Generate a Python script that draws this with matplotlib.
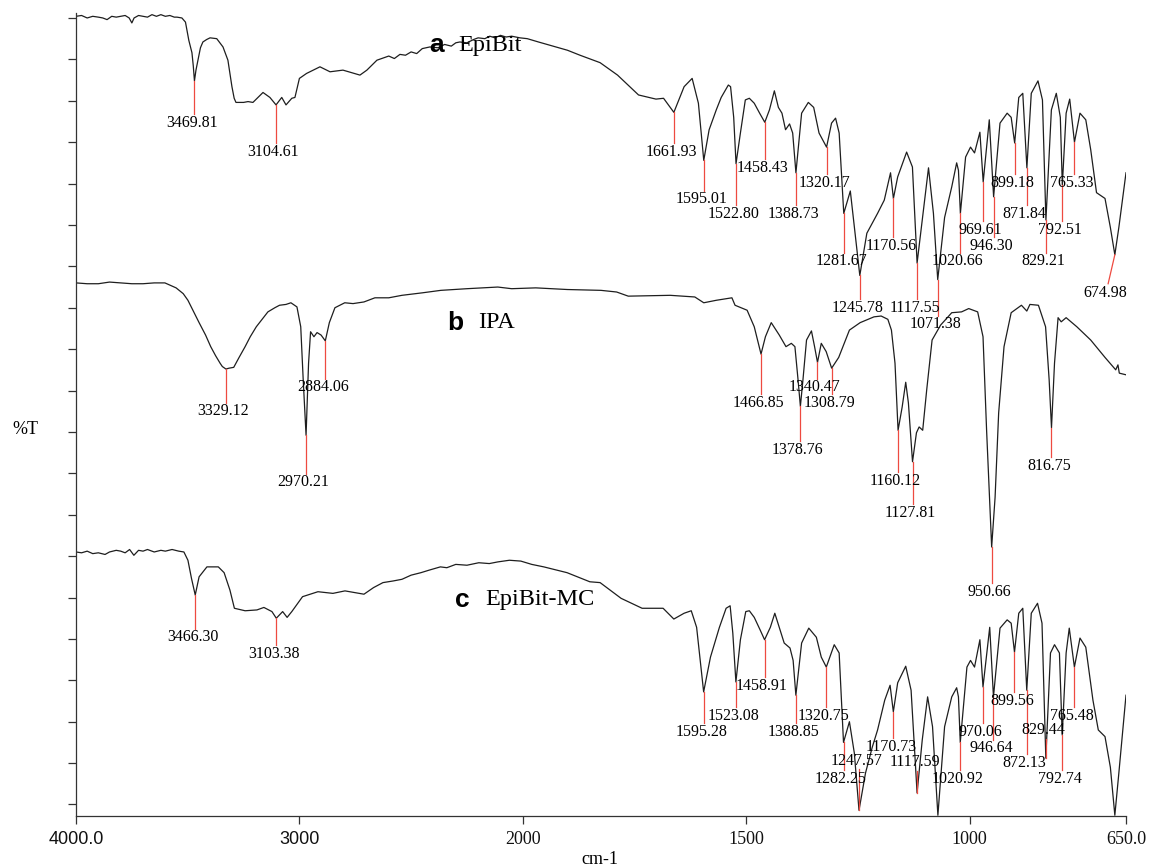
import numpy as np
import matplotlib
matplotlib.use('Agg')
import matplotlib.pyplot as plt
from matplotlib.ticker import NullLocator
from matplotlib.transforms import offset_copy

# spectrum a: EpiBit  (wavenumber cm-1, %T)
a_wn = [4000, 3975, 3950, 3925, 3900, 3880, 3861, 3840, 3820, 3800,
        3780, 3762, 3750, 3740, 3720, 3700, 3680, 3660, 3640, 3620,
        3600, 3580, 3560, 3548, 3526, 3510, 3495, 3481, 3475, 3469.81,
        3463, 3454, 3443, 3432, 3415, 3400, 3370, 3342, 3320, 3310,
        3302, 3292, 3284, 3250, 3230, 3208, 3163, 3132, 3104.61, 3079,
        3060, 3034, 3020, 3000, 2968, 2908, 2863, 2805, 2729, 2698,
        2653, 2600, 2575, 2550, 2525, 2500, 2475, 2450, 2416, 2380,
        2350, 2320, 2300, 2282, 2250, 2220, 2200, 2170, 2148, 2125,
        2100, 2075, 2050, 2013, 1990, 1965, 1939, 1900, 1872, 1827,
        1788, 1741, 1702, 1685, 1661.93, 1639, 1621, 1607, 1595.01, 1583,
        1567, 1556, 1540, 1535, 1528, 1522.80, 1513, 1502, 1493, 1482,
        1470, 1458.43, 1448, 1437, 1428, 1420, 1412, 1403, 1396, 1388.73,
        1376, 1361, 1349, 1337, 1320.17, 1309, 1300, 1292, 1281.67, 1267,
        1245.78, 1230, 1206, 1191, 1177, 1170.56, 1161, 1141, 1128, 1117.55,
        1092, 1081, 1071.38, 1056, 1040, 1029, 1025, 1020.66, 1009, 998,
        989, 977, 969.61, 956, 946.30, 932, 916, 907, 899.18, 890,
        881, 871.84, 862, 847, 837, 829.21, 817, 806, 797, 792.51,
        784, 776, 765.33, 753, 740, 729, 716, 697, 685, 674.98,
        666, 650]
a_T = [100.2, 100.3, 100.0, 100.2, 100.1, 100.0, 99.8, 100.2, 100.1, 100.2,
       100.3, 100.0, 99.4, 100.0, 100.3, 100.2, 100.1, 100.4, 100.2, 100.4,
       100.2, 100.3, 100.1, 100.1, 100.0, 99.5, 97.3, 95.8, 94.2, 92.4,
       93.7, 94.9, 96.4, 97.1, 97.4, 97.6, 97.5, 96.5, 94.9, 93.1,
       91.7, 90.3, 89.8, 89.8, 89.9, 89.8, 91.0, 90.4, 89.5, 90.4,
       89.5, 90.3, 90.4, 92.7, 93.3, 94.1, 93.5, 93.7, 93.1, 93.7,
       94.9, 95.4, 95.1, 95.6, 95.5, 95.9, 95.7, 96.3, 96.5, 96.4,
       96.8, 96.6, 97.0, 97.1, 97.0, 97.4, 97.6, 97.5, 97.8, 97.6,
       97.9, 97.7, 97.8, 97.6, 97.5, 97.1, 96.7, 96.1, 95.5, 94.6,
       93.1, 90.7, 90.2, 90.3, 88.6, 91.7, 92.7, 89.7, 82.8, 86.5,
       88.9, 90.4, 91.9, 91.7, 88.0, 82.4, 86.1, 90.1, 90.3, 89.7,
       88.5, 87.4, 88.9, 91.2, 89.2, 88.5, 86.5, 87.2, 86.1, 81.3,
       88.5, 89.8, 89.2, 86.1, 84.4, 87.3, 87.9, 86.1, 76.4, 79.1,
       68.9, 74.0, 76.4, 78.0, 81.3, 78.2, 80.8, 83.8, 82.0, 70.4,
       81.9, 76.4, 68.4, 75.9, 79.6, 82.5, 81.6, 76.4, 83.2, 84.4,
       83.7, 86.2, 80.2, 87.7, 78.4, 87.3, 88.5, 88.0, 84.9, 90.4,
       90.9, 81.9, 90.9, 92.4, 90.1, 75.6, 88.9, 90.9, 88.0, 79.8,
       88.5, 90.2, 85.0, 88.5, 87.7, 84.1, 78.9, 78.2, 74.7, 71.4,
       74.7, 81.3]

# spectrum b: IPA
b_wn = [4000, 3950, 3900, 3850, 3800, 3750, 3700, 3650, 3602, 3552,
        3520, 3499, 3475, 3449, 3420, 3397, 3375, 3355, 3345, 3329.12,
        3315, 3294, 3270, 3243, 3220, 3193, 3170, 3141, 3110, 3089,
        3060, 3038, 3011, 2994, 2983, 2970.21, 2959, 2950, 2935, 2921,
        2903, 2884.06, 2866, 2841, 2797, 2760, 2711, 2662, 2600, 2541,
        2450, 2367, 2250, 2112, 2050, 1971, 1900, 1825, 1790, 1764,
        1670, 1615, 1595, 1567, 1532, 1525, 1498, 1482, 1466.85, 1457,
        1444, 1426, 1411, 1399, 1391, 1384, 1378.76, 1373, 1365, 1354,
        1347, 1340.47, 1332, 1321, 1308.79, 1293, 1269, 1245, 1214, 1198,
        1183, 1175, 1167, 1160.12, 1151, 1143, 1137, 1127.81, 1119, 1113,
        1105, 1096, 1084, 1065, 1040, 1018, 1002, 982, 970, 962,
        954, 950.66, 943, 935, 923, 907, 884, 872, 865, 846,
        830, 822, 816.75, 810, 802, 795, 784, 760, 729, 697,
        673, 668, 665, 650]
b_T = [68.0, 67.9, 67.9, 68.1, 68.0, 67.9, 67.9, 68.0, 68.0, 67.4,
       66.7, 65.9, 64.6, 63.2, 61.7, 60.3, 59.2, 58.3, 57.9, 57.6,
       57.7, 57.8, 59.0, 60.3, 61.5, 62.7, 63.5, 64.5, 65.0, 65.3,
       65.4, 65.6, 65.1, 62.7, 56.3, 49.6, 58.3, 62.1, 61.5, 62.0,
       61.7, 61.0, 63.2, 65.0, 65.6, 65.5, 65.7, 66.2, 66.2, 66.5,
       66.8, 67.1, 67.3, 67.5, 67.3, 67.4, 67.2, 67.1, 66.9, 66.4,
       66.5, 66.3, 65.6, 65.9, 66.2, 65.3, 64.7, 62.7, 59.4, 61.5,
       63.2, 61.7, 60.3, 60.7, 60.3, 56.3, 53.1, 56.3, 61.1, 62.2,
       60.3, 58.4, 60.7, 59.7, 57.7, 59.0, 62.3, 63.2, 63.9, 64.0,
       63.6, 62.3, 58.3, 50.2, 53.0, 56.0, 53.5, 46.4, 49.9, 50.6,
       50.2, 55.1, 61.1, 62.9, 64.4, 64.5, 64.9, 64.5, 61.5, 50.2,
       40.2, 36.1, 42.1, 52.3, 60.3, 64.4, 65.3, 64.6, 65.4, 65.3,
       62.7, 56.3, 50.5, 58.3, 63.8, 63.3, 63.8, 62.7, 61.1, 59.0,
       57.5, 58.1, 57.1, 56.9]

# spectrum c: EpiBit-MC
c_wn = [4000, 3975, 3950, 3925, 3900, 3870, 3850, 3820, 3800, 3780,
        3760, 3741, 3720, 3700, 3680, 3650, 3620, 3600, 3570, 3540,
        3517, 3499, 3483, 3466.30, 3449, 3414, 3363, 3337, 3311, 3291,
        3243, 3190, 3159, 3123, 3103.38, 3075, 3055, 3034, 2986, 2917,
        2850, 2796, 2711, 2668, 2626, 2580, 2541, 2500, 2456, 2420,
        2369, 2340, 2300, 2250, 2197, 2150, 2112, 2060, 2009, 1980,
        1953, 1901, 1850, 1827, 1780, 1733, 1686, 1662, 1639, 1623,
        1611, 1595.28, 1580, 1560,
        1545, 1536, 1530, 1523.08, 1513, 1501, 1493, 1482, 1469, 1458.91,
        1446, 1436, 1426, 1415, 1402, 1395, 1388.85, 1376, 1360, 1343,
        1332, 1320.75, 1303, 1292, 1282.25, 1269, 1258, 1247.57, 1233, 1218,
        1206, 1190, 1178, 1170.73, 1161, 1143, 1131, 1117.59, 1106, 1094,
        1083, 1071, 1056, 1040, 1029, 1025, 1020.92, 1006, 998, 989,
        977, 970.06, 955, 946.64, 932, 916, 907, 899.56, 890, 881,
        872.13, 862, 848, 838, 829.44, 819, 810, 799, 792.74, 784,
        777, 765.48, 753, 740, 724, 712, 697, 685, 674.98, 666,
        650]
c_T = [35.5, 35.4, 35.6, 35.3, 35.4, 35.2, 35.5, 35.7, 35.6, 35.4,
       35.8, 35.1, 35.7, 35.6, 35.8, 35.5, 35.7, 35.6, 35.8, 35.6,
       35.5, 34.5, 32.3, 30.3, 32.5, 33.7, 33.7, 33.0, 30.9, 28.7,
       28.4, 28.5, 28.8, 28.3, 27.5, 28.3, 27.6, 28.3, 30.1, 30.7,
       30.5, 30.8, 30.4, 31.2, 31.8, 32.0, 32.2, 32.7, 33.0, 33.3,
       33.7, 33.6, 34.0, 33.9, 34.2, 34.1, 34.3, 34.5, 34.4, 34.0,
       33.7, 33.0, 31.9, 31.8, 29.9, 28.7, 28.7, 27.4, 28.1, 28.4,
       26.4, 18.6, 22.8, 26.4,
       28.7, 29.0, 25.7, 19.8, 24.9, 28.3, 28.4, 27.6, 26.1, 24.9,
       26.4, 28.1, 26.4, 24.5, 23.9, 22.4, 18.2, 24.5, 26.3, 25.2,
       22.8, 21.6, 24.3, 23.3, 12.5, 15.0, 11.2, 4.3, 8.8, 11.9,
       14.0, 17.6, 19.4, 16.2, 19.7, 21.7, 18.8, 6.4, 12.8, 18.0,
       14.4, 3.7, 14.4, 18.0, 19.1, 18.0, 12.5, 21.6, 22.4, 21.6,
       24.9, 19.2, 26.4, 18.0, 26.3, 27.3, 26.9, 23.4, 28.1, 28.7,
       18.8, 28.1, 29.3, 26.9, 10.6, 23.3, 24.3, 23.3, 13.4, 23.3,
       26.3, 21.6, 25.1, 24.0, 17.6, 14.0, 13.2, 9.5, 3.7, 8.8,
       18.2]

# labelled peaks
a_peaks = [3469.81, 3104.61, 1661.93, 1595.01, 1522.80, 1458.43, 1388.73, 1320.17,
           1281.67, 1245.78, 1170.56, 1117.55, 1071.38, 1020.66, 969.61, 946.30,
           899.18, 871.84, 829.21, 792.51, 765.33, 674.98]
b_peaks = [3329.12, 2970.21, 2884.06, 1466.85, 1378.76, 1340.47, 1308.79,
           1160.12, 1127.81, 950.66, 816.75]
c_peaks = [3466.30, 3103.38, 1595.28, 1523.08, 1458.91, 1388.85, 1320.75, 1282.25,
           1247.57, 1170.73, 1117.59, 1020.92, 970.06, 946.64, 899.56, 872.13,
           829.44, 792.74, 765.48]

# where the peak labels sit (y in %T units)
a_lab_y = [87.3, 83.8, 83.8, 78.1, 76.3, 81.9, 76.3, 80.1, 70.6, 65.0, 72.5,
           65.0, 63.0, 70.6, 74.4, 72.5, 80.1, 76.3, 70.6, 74.4, 80.1, 66.8]
b_lab_y = [52.5, 43.9, 55.4, 53.5, 47.8, 55.4, 53.5, 44.1, 40.2, 30.7, 45.9]
c_lab_y = [25.2, 23.2, 13.8, 15.7, 19.3, 13.8, 15.7, 8.1, 10.3, 12.0, 10.1,
           8.1, 13.8, 11.8, 17.5, 10.0, 14.0, 8.1, 15.7]
lab_x_shift = {674.98: (690, 696)}   # line end, label centre

x_ticks = [4000, 3000, 2000, 1500, 1000, 650]
x_ticklabels = ['4000.0', '3000', '2000', '1500', '1000', '650.0']
x_tickfonts = ['Liberation Sans', 'Liberation Sans', 'Liberation Serif',
               'Liberation Serif', 'Liberation Serif', 'Liberation Serif']


# below 2000 cm-1 the axis is expanded 2x (instrument style)
def fwd(w):
    w = np.asarray(w, dtype=float)
    return np.where(w >= 2000, w, 2 * w - 2000)


def inv(u):
    u = np.asarray(u, dtype=float)
    return np.where(u >= 2000, u, (u + 2000) / 2)


serif = 'Liberation Serif'
fig = plt.figure(figsize=(11.5, 8.67), dpi=100)
ax = fig.add_axes([76 / 1150, 51 / 867, 1050 / 1150, 803 / 867])
ax.set_xscale('function', functions=(fwd, inv))
lab_trans = offset_copy(ax.transData, fig=fig, x=-2.5, y=0, units='dots')

for wn, T in [(a_wn, a_T), (b_wn, b_T), (c_wn, c_T)]:
    ax.plot(wn, T, color='#1e1e1e', lw=0.9)

red = '#ee4a40'
for wn, T, peaks, laby in [(a_wn, a_T, a_peaks, a_lab_y),
                           (b_wn, b_T, b_peaks, b_lab_y),
                           (c_wn, c_T, c_peaks, c_lab_y)]:
    lookup = dict(zip(wn, T))
    for p, ly in zip(peaks, laby):
        top = lookup[p]
        if p in lab_x_shift:
            xe, xl = lab_x_shift[p]
            ax.plot([p, xe], [top, ly + 1.1], color=red, lw=0.9)
            ax.text(xl, ly, f'{p:.2f}', ha='center', va='center',
                    fontsize=11.5, fontfamily=serif)
            continue
        if top > ly:
            ax.plot([p, p], [top, ly + 1.05], color=red, lw=0.9)
        else:
            ax.plot([p, p], [ly - 1.05, top], color=red, lw=0.9)
        ax.text(p, ly, f'{p:.2f}', ha='center', va='center',
                fontsize=11.5, fontfamily=serif, transform=lab_trans)

# sample names
names = [('a', 'EpiBit', 2385, 2291, 96.7),
         ('b', 'IPA', 2300, 2201, 63.2),
         ('c', 'EpiBit-MC', 2273, 2170, 29.7)]
for letter, name, xl, xn, y in names:
    ax.text(xl, y, letter, ha='center', va='center', fontsize=19,
            fontweight='bold', fontfamily='Liberation Sans')
    ax.text(xn, y, name, ha='left', va='center', fontsize=17.5, fontfamily=serif)

ax.set_xlim(4000, 650)
ax.set_ylim(3.61, 100.6)
ax.set_xticks(x_ticks)
ax.set_xticklabels(x_ticklabels)
for lbl, fam in zip(ax.get_xticklabels(), x_tickfonts):
    lbl.set_fontfamily(fam)
ax.xaxis.set_minor_locator(NullLocator())
ax.set_yticks(np.arange(5, 101, 5))
ax.set_yticklabels([])
ax.yaxis.set_minor_locator(NullLocator())
ax.tick_params(axis='x', direction='out', length=5.5, width=0.9, pad=5,
               labelsize=13, colors='#333333', labelcolor='#111111')
ax.tick_params(axis='y', direction='out', length=6, width=0.9, colors='#333333')
for s in ['top', 'right']:
    ax.spines[s].set_visible(False)
for s in ['left', 'bottom']:
    ax.spines[s].set_color('#333333')
    ax.spines[s].set_linewidth(0.9)

fig.text(25 / 1150, 1 - 430 / 867, '%T', ha='center', va='center',
         fontsize=13, fontfamily=serif)
fig.text(600 / 1150, 1 - 860 / 867, 'cm-1', ha='center', va='center',
         fontsize=13, fontfamily=serif)

fig.savefig('out.png', dpi=100)
